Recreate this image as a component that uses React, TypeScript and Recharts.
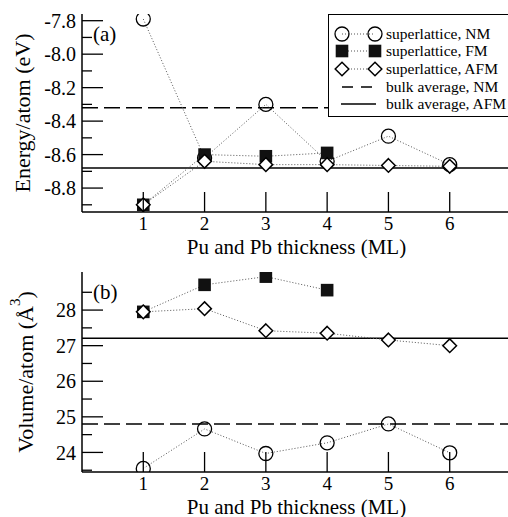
import React from 'react'
import { LineChart, Line, XAxis, YAxis, ReferenceLine, Legend } from 'recharts'

// Pu and Pb thickness (ML)
const thickness = [1, 2, 3, 4, 5, 6]
const xTicks = [1, 2, 3, 4, 5, 6]
const xDomain = [0, 7]

// (a) energy per atom, eV
const energyNM = [-7.79, -8.62, -8.3, -8.64, -8.49, -8.66]
const energyFM = [-8.9, -8.6, -8.61, -8.59, null, null]
const energyAFM = [-8.9, -8.64, -8.66, -8.66, -8.665, -8.67]
const energyBulkNM = -8.32
const energyBulkAFM = -8.68
const energyDomain = [-8.943, -7.76]
const energyMajor = [-8.8, -8.6, -8.4, -8.2, -8.0, -7.8]
const energyMinor = [-8.9, -8.7, -8.5, -8.3, -8.1, -7.9]

// (b) volume per atom, Å^3
const volumeNM = [23.55, 24.66, 23.97, 24.27, 24.8, 23.99]
const volumeFM = [27.95, 28.71, 28.94, 28.56, null, null]
const volumeAFM = [27.95, 28.04, 27.42, 27.35, 27.16, 27.0]
const volumeBulkNM = 24.8
const volumeBulkAFM = 27.21
const volumeDomain = [23.45, 29.07]
const volumeMajor = [24, 25, 26, 27, 28]
const volumeMinor = [23.5, 24.5, 25.5, 26.5, 27.5, 28.5]

const seriesNames = ['superlattice, NM', 'superlattice, FM', 'superlattice, AFM']
const bulkNames = ['bulk average, NM', 'bulk average, AFM']

const energyData = thickness.map((x, i) => ({ x, nm: energyNM[i], fm: energyFM[i], afm: energyAFM[i] }))
const volumeData = thickness.map((x, i) => ({ x, nm: volumeNM[i], fm: volumeFM[i], afm: volumeAFM[i] }))

const FONT = '"Liberation Serif", "Times New Roman", serif'
const frame = { stroke: '#000', strokeWidth: 1.5 }
const DOTTED = { stroke: '#555', strokeWidth: 1, strokeDasharray: '1 2' }

const txt = (size: number) => ({ fontFamily: FONT, fontSize: size, fill: '#000' })

function CircleMark({ cx, cy }: any) {
  if (cx == null || cy == null) return null
  return <circle cx={cx} cy={cy} r={7} fill="none" stroke="#000" strokeWidth={1.3} />
}

function SquareMark({ cx, cy }: any) {
  if (cx == null || cy == null) return null
  return <rect x={cx - 6.3} y={cy - 6.3} width={12.6} height={12.6} fill="#111" />
}

function DiamondMark({ cx, cy }: any) {
  if (cx == null || cy == null) return null
  const d = 6.8
  return (
    <polygon
      points={`${cx},${cy - d} ${cx + d},${cy} ${cx},${cy + d} ${cx - d},${cy}`}
      fill="#fff"
      stroke="#000"
      strokeWidth={1.5}
    />
  )
}

function YTick({ x, y, payload, majors, right, decimals }: any) {
  const major = majors.some((m: number) => Math.abs(m - payload.value) < 1e-6)
  const len = major ? 21 : 10
  const dir = right ? -1 : 1
  return (
    <g>
      <line x1={x} y1={y} x2={x + dir * len} y2={y} stroke="#000" strokeWidth={1.3} />
      {major && !right && (
        <text x={x - 6} y={y} dy="0.36em" textAnchor="end" style={txt(20)}>
          {Number(payload.value).toFixed(decimals)}
        </text>
      )}
    </g>
  )
}

function XTick({ x, y, payload, top }: any) {
  const dir = top ? 1 : -1
  return (
    <g>
      <line x1={x} y1={y} x2={x} y2={y + dir * 20} stroke="#000" strokeWidth={1.3} />
      {!top && (
        <text x={x} y={y + 11} dy="0.36em" textAnchor="middle" style={txt(19)}>
          {payload.value}
        </text>
      )}
    </g>
  )
}

function XTitle({ viewBox }: any) {
  if (!viewBox) return null
  return (
    <text x={viewBox.x + viewBox.width / 2} y={viewBox.y + viewBox.height - 2} textAnchor="middle" style={txt(21)}>
      Pu and Pb thickness (ML)
    </text>
  )
}

function EnergyTitle({ viewBox }: any) {
  if (!viewBox) return null
  const cx = viewBox.x + 30
  const cy = viewBox.y + viewBox.height / 2
  return (
    <text x={cx} y={cy} transform={`rotate(-90 ${cx} ${cy})`} textAnchor="middle" style={txt(22)}>
      Energy/atom (eV)
    </text>
  )
}

function VolumeTitle({ viewBox }: any) {
  if (!viewBox) return null
  const cx = viewBox.x + 33
  const cy = viewBox.y + viewBox.height / 2
  return (
    <text x={cx} y={cy} transform={`rotate(-90 ${cx} ${cy})`} textAnchor="middle" style={txt(22)}>
      Volume/atom (Å
      <tspan dy={-13} style={{ fontSize: 15 }}>3</tspan>
      <tspan dy={13}>)</tspan>
    </text>
  )
}

function LegendMark({ kind }: { kind: string }) {
  return (
    <svg width={54} height={18} style={{ display: 'block' }}>
      {kind === 'dash' && <line x1={13} y1={9} x2={46} y2={9} stroke="#000" strokeWidth={1.5} strokeDasharray="11 8" />}
      {kind === 'solid' && <line x1={12} y1={9} x2={47} y2={9} stroke="#000" strokeWidth={1.5} />}
      {['circle', 'square', 'diamond'].includes(kind) && <line x1={13} y1={9} x2={46} y2={9} {...DOTTED} />}
      {kind === 'circle' && [13, 46].map((cx) => <CircleMark key={cx} cx={cx} cy={9} />)}
      {kind === 'square' && [13, 46].map((cx) => <SquareMark key={cx} cx={cx} cy={9} />)}
      {kind === 'diamond' && [13, 46].map((cx) => <DiamondMark key={cx} cx={cx} cy={9} />)}
    </svg>
  )
}

function LegendBox() {
  const rows = [
    { name: seriesNames[0], kind: 'circle' },
    { name: seriesNames[1], kind: 'square' },
    { name: seriesNames[2], kind: 'diamond' },
    { name: bulkNames[0], kind: 'dash' },
    { name: bulkNames[1], kind: 'solid' },
  ]
  return (
    <div
      style={{
        background: '#fff',
        border: '1.3px solid #000',
        padding: '10px 0 4px 0',
        boxSizing: 'border-box',
        height: 103,
        fontFamily: FONT,
        color: '#000',
      }}
    >
      {rows.map((r) => (
        <div key={r.name} style={{ display: 'flex', alignItems: 'center', height: 17.6, fontSize: 15.5, whiteSpace: 'nowrap' }}>
          <LegendMark kind={r.kind} />
          <span style={{ marginLeft: 3 }}>{r.name}</span>
        </div>
      ))}
    </div>
  )
}

type PanelProps = {
  data: any[]
  height: number
  bottom: number
  domain: number[]
  majors: number[]
  minors: number[]
  decimals: number
  bulkNM: number
  bulkAFM: number
  title: React.ReactElement
  tag: string
  legend?: boolean
}

function Panel({ data, height, bottom, domain, majors, minors, decimals, bulkNM, bulkAFM, title, tag, legend }: PanelProps) {
  const yTicks = [...majors, ...minors].sort((a, b) => a - b)
  return (
    <div style={{ position: 'relative', width: 512, height }}>
      <LineChart width={512} height={height} data={data} margin={{ top: 14, right: 1, bottom, left: 0 }}>
        <XAxis
          dataKey="x"
          type="number"
          domain={xDomain}
          ticks={xTicks}
          interval={0}
          allowDataOverflow
          height={44}
          tickSize={0}
          tickMargin={0}
          tickLine={false}
          axisLine={frame}
          tick={(p: any) => <XTick {...p} />}
          label={<XTitle />}
        />
        <XAxis
          xAxisId="top"
          orientation="top"
          dataKey="x"
          type="number"
          domain={xDomain}
          ticks={xTicks}
          interval={0}
          allowDataOverflow
          height={0}
          tickSize={0}
          tickMargin={0}
          tickLine={false}
          axisLine={frame}
          tick={(p: any) => <XTick {...p} top />}
        />
        <YAxis
          type="number"
          domain={domain}
          ticks={yTicks}
          interval={0}
          allowDataOverflow
          width={82}
          tickSize={0}
          tickMargin={0}
          tickLine={false}
          axisLine={frame}
          tick={(p: any) => <YTick {...p} majors={majors} decimals={decimals} />}
          label={title}
        />
        <YAxis
          yAxisId="right"
          orientation="right"
          type="number"
          domain={domain}
          ticks={yTicks}
          interval={0}
          allowDataOverflow
          width={0}
          tickSize={0}
          tickMargin={0}
          tickLine={false}
          axisLine={frame}
          tick={(p: any) => <YTick {...p} majors={majors} right />}
        />
        <ReferenceLine y={bulkNM} stroke="#000" strokeWidth={1.6} strokeDasharray="16 6" />
        <ReferenceLine y={bulkAFM} stroke="#000" strokeWidth={1.6} />
        <Line dataKey="nm" name={seriesNames[0]} {...DOTTED} dot={(p: any) => <CircleMark key={p.index} {...p} />} isAnimationActive={false} />
        <Line dataKey="fm" name={seriesNames[1]} {...DOTTED} dot={(p: any) => <SquareMark key={p.index} {...p} />} isAnimationActive={false} />
        <Line dataKey="afm" name={seriesNames[2]} {...DOTTED} dot={(p: any) => <DiamondMark key={p.index} {...p} />} isAnimationActive={false} />
        {/* ties the mirrored right axis to the same values so it is drawn */}
        <Line yAxisId="right" dataKey="afm" stroke="none" dot={false} activeDot={false} legendType="none" isAnimationActive={false} />
        {legend && (
          <Legend
            verticalAlign="middle"
            align="center"
            wrapperStyle={{ left: 328, top: 14, width: 184 }}
            content={() => <LegendBox />}
          />
        )}
      </LineChart>
      <div style={{ position: 'absolute', left: 93, top: 24, fontSize: 21, lineHeight: '21px', fontFamily: FONT }}>{tag}</div>
    </div>
  )
}

export default function App() {
  return (
    <div
      style={{
        position: 'absolute',
        left: 0,
        top: 0,
        width: 508,
        height: 517,
        overflow: 'hidden',
        background: '#fff',
        color: '#000',
        fontFamily: FONT,
      }}
    >
      <Panel
        data={energyData}
        height={258}
        bottom={2}
        domain={energyDomain}
        majors={energyMajor}
        minors={energyMinor}
        decimals={1}
        bulkNM={energyBulkNM}
        bulkAFM={energyBulkAFM}
        title={<EnergyTitle />}
        tag="(a)"
        legend
      />
      <Panel
        data={volumeData}
        height={259}
        bottom={1}
        domain={volumeDomain}
        majors={volumeMajor}
        minors={volumeMinor}
        decimals={0}
        bulkNM={volumeBulkNM}
        bulkAFM={volumeBulkAFM}
        title={<VolumeTitle />}
        tag="(b)"
      />
    </div>
  )
}
